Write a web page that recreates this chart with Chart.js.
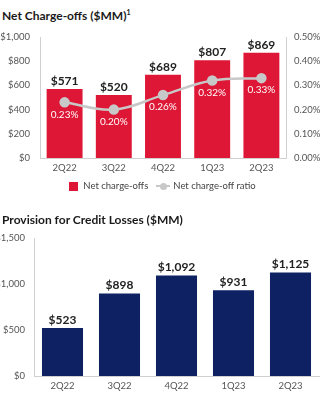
<!DOCTYPE html>
<html>
<head>
<meta charset="utf-8">
<script src="https://cdn.jsdelivr.net/npm/chart.js@4.4.0/dist/chart.umd.min.js"></script>
<style>
  html,body{margin:0;padding:0;background:#fff;width:324px;height:400px;overflow:hidden;font-family:Lato, "Open Sans", sans-serif;}
  .title{position:absolute;left:2px;font-weight:bold;font-size:12px;color:#1a1a1a;white-space:nowrap;}
  .title sup{font-size:7px;}
  canvas{position:absolute;left:0;}
  .legend{position:absolute;top:180px;left:40px;width:245px;font-size:9.5px;color:#444;display:flex;justify-content:center;align-items:center;line-height:12px;}
  .lg{white-space:nowrap;display:flex;align-items:center;}
</style>
</head>
<body>
<div class="title" style="top:8px;">Net Charge-offs ($MM)<sup>1</sup></div>
<canvas id="c1" width="324" height="200" style="top:0px;"></canvas>
<div class="legend">
  <div class="lg" style="margin-right:8px;"><span style="display:inline-block;width:9px;height:9px;background:#DD1735;margin-right:5px;"></span>Net charge-offs</div>
  <div class="lg"><span style="display:inline-block;position:relative;width:14px;height:9px;margin-right:3px;"><span style="position:absolute;left:0;top:3.5px;width:14px;height:2px;background:#C8C8C8;"></span><span style="position:absolute;left:3.5px;top:1px;width:7px;height:7px;border-radius:50%;background:#C8C8C8;"></span></span>Net charge-off ratio</div>
</div>
<div class="title" style="top:212px;">Provision for Credit Losses ($MM)</div>
<canvas id="c2" width="324" height="200" style="top:200px;"></canvas>
<script>
const categories = ['2Q22','3Q22','4Q22','1Q23','2Q23'];
const netChargeOffs = [571, 520, 689, 807, 869];
const ncoRatio = [0.23, 0.20, 0.26, 0.32, 0.33];
const provision = [523, 898, 1092, 931, 1125];
const leftTicks1 = [0, 200, 400, 600, 800, 1000];
const rightTicks1 = [0, 0.1, 0.2, 0.3, 0.4, 0.5];
const leftTicks2 = [0, 500, 1000, 1500];

const RED = '#DD1735';
const NAVY = '#0D2163';
const GRAY = '#C8C8C8';
const FONT = 'Lato, "Open Sans", sans-serif';

function money(v){ return '$' + v.toLocaleString('en-US'); }

const labelPlugin = {
  id: 'labels',
  afterDatasetsDraw(chart) {
    const ctx = chart.ctx;
    ctx.save();
    chart.data.datasets.forEach((ds, di) => {
      const meta = chart.getDatasetMeta(di);
      meta.data.forEach((el, i) => {
        if (ds.type === 'line') {
          ctx.font = '10px ' + FONT;
          ctx.fillStyle = '#fff';
          ctx.textAlign = 'center';
          ctx.textBaseline = 'middle';
          ctx.fillText(ds.data[i].toFixed(2) + '%', el.x, el.y + 12);
        } else {
          ctx.font = 'bold 12px ' + FONT;
          ctx.fillStyle = '#222';
          ctx.textAlign = 'center';
          ctx.textBaseline = 'middle';
          ctx.fillText(money(ds.data[i]), el.x, el.y - 8);
        }
      });
    });
    ctx.restore();
  }
};

const tickFont = {family: FONT, size: 9.5};
const tickColor = '#555';
const axisBorder = {display: true, color: '#D0D0D0', width: 1};
const noGrid = {display: false, drawTicks: false};

new Chart(document.getElementById('c1'), {
  data: {
    labels: categories,
    datasets: [
      {type: 'line', data: ncoRatio, yAxisID: 'y1', borderColor: GRAY, borderWidth: 2.5,
       pointBackgroundColor: GRAY, pointBorderColor: GRAY, pointRadius: 4, tension: 0.4, order: 0},
      {type: 'bar', data: netChargeOffs, yAxisID: 'y', backgroundColor: RED,
       barPercentage: 0.73, categoryPercentage: 1, order: 1}
    ]
  },
  options: {
    responsive: false, animation: false, devicePixelRatio: 1,
    layout: {padding: {top: 37, bottom: 22, left: 0, right: 0}},
    plugins: {legend: {display: false}, tooltip: {enabled: false}},
    scales: {
      x: {grid: noGrid, border: axisBorder,
          ticks: {font: tickFont, color: tickColor, padding: 4},
          afterFit(s){ s.height = 20; }},
      y: {position: 'left', min: 0, max: 1000, grid: noGrid, border: axisBorder,
          afterBuildTicks(s){ s.ticks = leftTicks1.map(v => ({value: v})); },
          ticks: {font: tickFont, color: tickColor, padding: 10, callback: v => money(v)},
          afterFit(s){ s.width = 40; }},
      y1: {position: 'right', min: 0, max: 0.5, grid: noGrid, border: axisBorder,
          afterBuildTicks(s){ s.ticks = rightTicks1.map(v => ({value: v})); },
          ticks: {font: tickFont, color: tickColor, padding: 8, callback: v => v.toFixed(2) + '%'},
          afterFit(s){ s.width = 38; }}
    }
  },
  plugins: [labelPlugin]
});

new Chart(document.getElementById('c2'), {
  data: {
    labels: categories,
    datasets: [
      {type: 'bar', data: provision, backgroundColor: NAVY, barPercentage: 0.72, categoryPercentage: 1}
    ]
  },
  options: {
    responsive: false, animation: false, devicePixelRatio: 1,
    layout: {padding: {top: 38, bottom: 4, left: 0, right: 5}},
    plugins: {legend: {display: false}, tooltip: {enabled: false}},
    scales: {
      x: {grid: noGrid, border: axisBorder,
          ticks: {font: tickFont, color: tickColor, padding: 4},
          afterFit(s){ s.height = 20; }},
      y: {min: 0, max: 1500, grid: noGrid, border: axisBorder,
          afterBuildTicks(s){ s.ticks = leftTicks2.map(v => ({value: v})); },
          ticks: {font: tickFont, color: tickColor, padding: 9, callback: v => money(v)},
          afterFit(s){ s.width = 34; }}
    }
  },
  plugins: [labelPlugin]
});
</script>
</body>
</html>
